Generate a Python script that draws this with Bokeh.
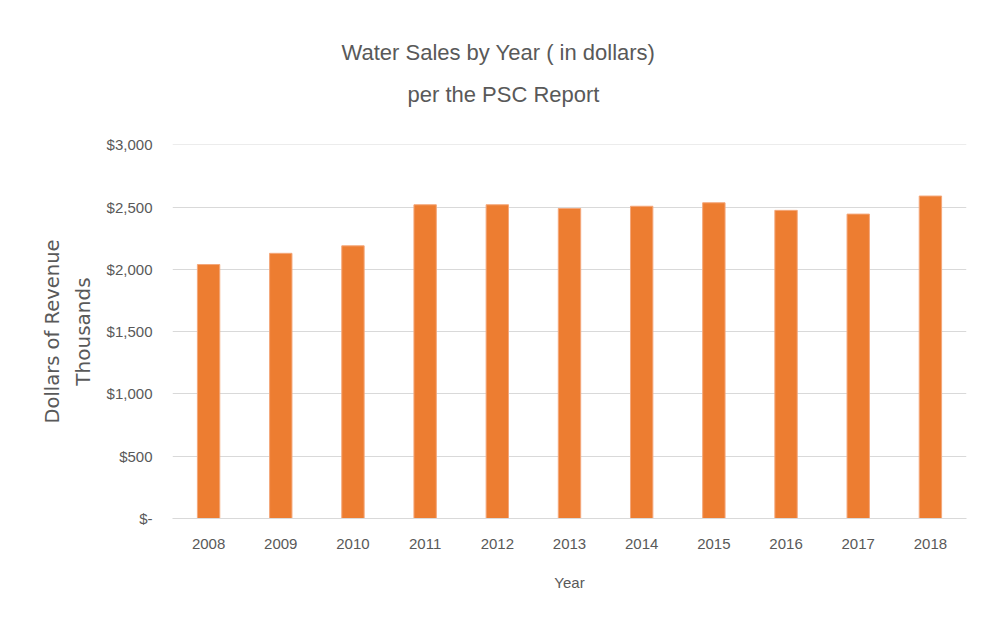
from bokeh.plotting import figure
from bokeh.models import (ColumnDataSource, FactorRange, Range1d, FixedTicker,
                          LinearAxis, Title)
from bokeh.embed import file_html
from bokeh.resources import INLINE

years = ["2008", "2009", "2010", "2011", "2012", "2013", "2014", "2015", "2016", "2017", "2018"]
revenue = [2040, 2130, 2190, 2520, 2520, 2490, 2508, 2536, 2475, 2445, 2590]
y_ticks = [0, 500, 1000, 1500, 2000, 2500, 3000]
y_tick_labels = ["$-", "$500", "$1,000", "$1,500", "$2,000", "$2,500", "$3,000"]

title_line1 = "Water Sales by Year ( in dollars)"
title_line2 = "per the PSC Report"
y_title = "Dollars of Revenue"
y_units = "Thousands"
x_title = "Year"

TEXT = "#595959"
GRID = "#d9d9d9"
BAR = "#ed7d31"
FONT = "Liberation Sans"
ROT_FONT = "DejaVu Sans"

src = ColumnDataSource(data=dict(year=years, revenue=revenue))

p = figure(
    width=968, height=621,
    x_range=FactorRange(*years, range_padding=0),
    y_range=Range1d(0, 3004),
    output_backend="svg", toolbar_location=None,
    min_border_left=172, min_border_right=2,
    min_border_top=144, min_border_bottom=103,
)
p.outline_line_color = None
p.background_fill_color = "white"
p.border_fill_color = "white"

p.vbar(x="year", top="revenue", width=0.31, source=src,
       fill_color=BAR, line_color="#f4a77a", line_width=1)

# y axis (tick labels + display-unit label)
p.yaxis.ticker = FixedTicker(ticks=y_ticks)
p.yaxis.major_label_overrides = {t: s for t, s in zip(y_ticks, y_tick_labels)}
p.yaxis.axis_line_color = None
p.yaxis.major_tick_line_color = None
p.yaxis.minor_tick_line_color = None
p.yaxis.major_tick_out = 0
p.yaxis.major_label_standoff = 20
p.yaxis.major_label_text_font = FONT
p.yaxis.major_label_text_font_size = "15px"
p.yaxis.major_label_text_color = TEXT
p.yaxis.axis_label = y_units
p.yaxis.axis_label_text_font = ROT_FONT
p.yaxis.axis_label_text_font_size = "20px"
p.yaxis.axis_label_text_font_style = "normal"
p.yaxis.axis_label_text_color = TEXT
p.yaxis.axis_label_standoff = 9

# outer y axis carrying the axis title only
outer = LinearAxis(ticker=FixedTicker(ticks=[]), axis_line_color=None,
                   major_tick_line_color=None, minor_tick_line_color=None,
                   major_tick_out=0, minor_tick_out=0, major_label_standoff=0,
                   axis_label=y_title, axis_label_text_font=ROT_FONT,
                   axis_label_text_font_size="19.5px", axis_label_text_font_style="normal",
                   axis_label_text_color=TEXT, axis_label_standoff=4)
p.add_layout(outer, "left")

# x axis
p.xaxis.axis_line_color = GRID
p.xaxis.major_tick_line_color = None
p.xaxis.minor_tick_line_color = None
p.xaxis.major_tick_out = 0
p.xaxis.major_label_standoff = 20
p.xaxis.major_label_text_font = FONT
p.xaxis.major_label_text_font_size = "15px"
p.xaxis.major_label_text_color = TEXT
p.xaxis.axis_label = x_title
p.xaxis.axis_label_text_font = FONT
p.xaxis.axis_label_text_font_size = "15px"
p.xaxis.axis_label_text_font_style = "normal"
p.xaxis.axis_label_text_color = TEXT
p.xaxis.axis_label_standoff = 22

p.xgrid.grid_line_color = None
p.ygrid.grid_line_color = GRID
p.ygrid.grid_line_width = 1

has_standoff = "standoff" in Title.properties()

spacer = Title(text=" ", text_font_size="1px", text_color="white")
t2 = Title(text=title_line2, align="left", offset=235, text_font=FONT,
           text_font_size="22px", text_font_style="normal", text_color=TEXT)
t1 = Title(text=title_line1, align="left", offset=169, text_font=FONT,
           text_font_size="22px", text_font_style="normal", text_color=TEXT)
if has_standoff:
    spacer.standoff = 26
    t2.standoff = 18
    t1.standoff = 11
p.add_layout(spacer, "above")
p.add_layout(t2, "above")
p.add_layout(t1, "above")

open("out.html", "w").write(file_html(p, INLINE))
